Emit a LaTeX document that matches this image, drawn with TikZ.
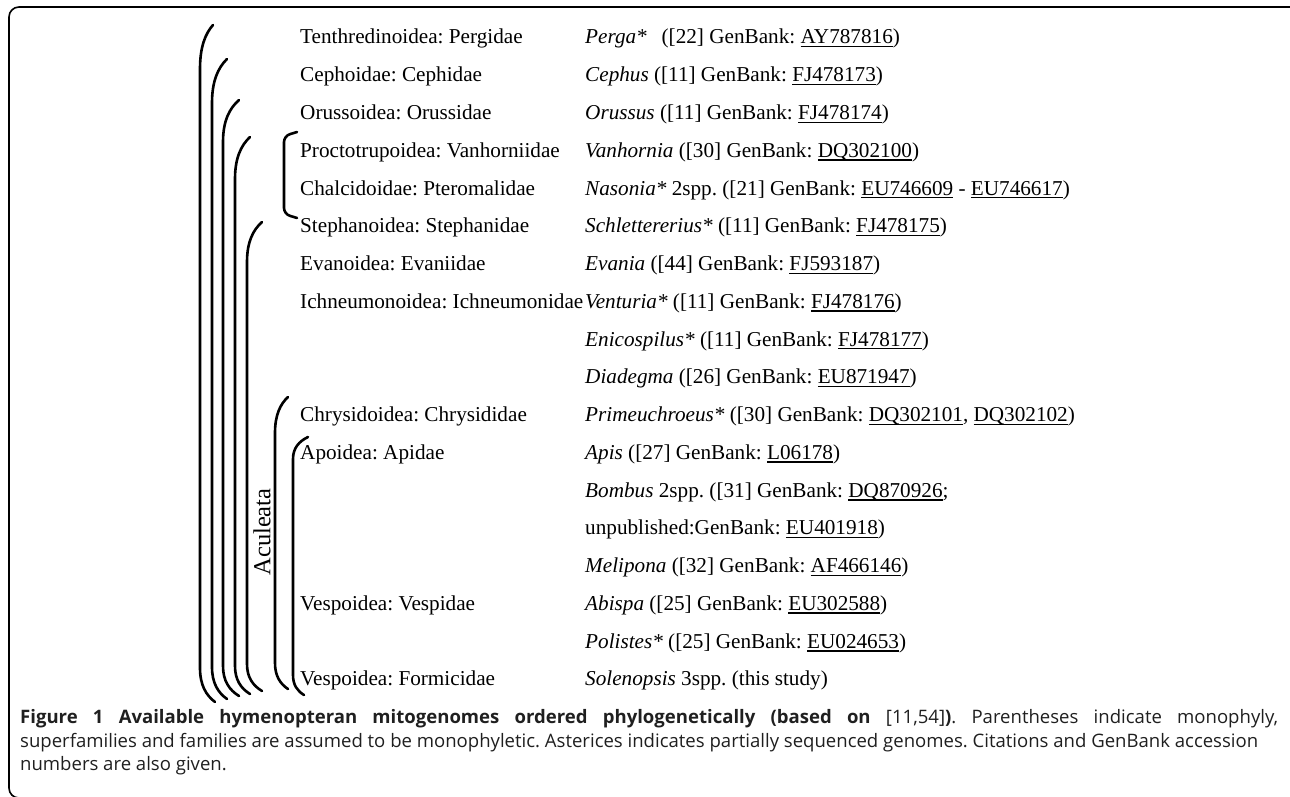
\documentclass[tikz,border=0pt]{standalone}
\usepackage{fontspec}
\setmainfont{Liberation Serif}
\newfontfamily\capfont{Open Sans}
\newcommand\acc[1]{{\sbox0{#1}\rlap{\rule[-3.4pt]{\wd0}{1.4pt}}\usebox0}}
\newlength\capw
\newlength\capsz
\newcommand\captwo{superfamilies and families are assumed to be monophyletic. Asterices indicates partially sequenced genomes. Citations and GenBank accession}
% #1 vertical x, #2/#3 top tip, #4/#5 bottom tip, #6 top curve length, #7 bottom curve length
\newcommand\hparen[7]{%
  \draw[paren] (#2,#3) .. controls ({#1+0.4*(#2-#1)},{#3+0.2*#6}) and (#1,{#3+0.5*#6}) .. (#1,{#3+#6})
    -- (#1,{#5-#7}) .. controls (#1,{#5-0.5*#7}) and ({#1+0.4*(#4-#1)},{#5-0.2*#7}) .. (#4,#5);}
\frenchspacing
\begin{document}
\settowidth\capw{\capfont\fontsize{10pt}{12pt}\selectfont\captwo}
\setlength\capsz{\dimexpr 10pt*81133568/\number\capw\relax}
\begin{tikzpicture}[x=1pt,y=-1pt,
  paren/.style={line width=2.6pt, line cap=round},
  lab/.style={anchor=base west, inner sep=0pt, font=\fontsize{21.2}{25}\selectfont},
  capline/.style={anchor=base west, inner sep=0pt, text=black!88, font=\capfont\fontsize{\capsz}{1.2\capsz}\selectfont}]
\useasboundingbox (0,0) rectangle (1290,797);
\draw[line width=1.6pt, rounded corners=10pt] (9,7) rectangle (1302,798);

% left column
\node[lab] (l1) at (300,44) {Tenthredinoidea: Pergidae};
\node[lab] (l2) at (300,81.76) {Cephoidae: Cephidae};
\node[lab] (l3) at (300,119.52) {Orussoidea: Orussidae};
\node[lab] (l4) at (300,157.28) {Proctotrupoidea: Vanhorniidae};
\node[lab] (l5) at (300,195.04) {Chalcidoidae: Pteromalidae};
\node[lab] (l6) at (300,232.8) {Stephanoidea: Stephanidae};
\node[lab] (l7) at (300,270.56) {Evanoidea: Evaniidae};
\node[lab] (l8) at (300,308.32) {Ichneumonoidea: Ichneumonidae};
\node[lab] (l11) at (300,421.6) {Chrysidoidea: Chrysididae};
\node[lab] (l12) at (300,459.36) {Apoidea: Apidae};
\node[lab] (l16) at (300,610.4) {Vespoidea: Vespidae};
\node[lab] (l18) at (300,685.92) {Vespoidea: Formicidae};

% right column
\node[lab] (r1) at (585,44) {\textit{Perga*}\hspace{0.7em}([22] GenBank: \acc{AY787816})};
\node[lab] (r2) at (585,81.76) {\textit{Cephus} ([11] GenBank: \acc{FJ478173})};
\node[lab] (r3) at (585,119.52) {\textit{Orussus} ([11] GenBank: \acc{FJ478174})};
\node[lab] (r4) at (585,157.28) {\textit{Vanhornia} ([30] GenBank: \acc{DQ302100})};
\node[lab] (r5) at (585,195.04) {\textit{Nasonia*} 2spp. ([21] GenBank: \acc{EU746609} - \acc{EU746617})};
\node[lab] (r6) at (585,232.8) {\textit{Schlettererius*} ([11] GenBank: \acc{FJ478175})};
\node[lab] (r7) at (585,270.56) {\textit{Evania} ([44] GenBank: \acc{FJ593187})};
\node[lab] (r8) at (585,308.32) {\textit{Venturia*} ([11] GenBank: \acc{FJ478176})};
\node[lab] (r9) at (585,346.08) {\textit{Enicospilus*} ([11] GenBank: \acc{FJ478177})};
\node[lab] (r10) at (585,383.84) {\textit{Diadegma} ([26] GenBank: \acc{EU871947})};
\node[lab] (r11) at (585,421.6) {\textit{Primeuchroeus*} ([30] GenBank: \acc{DQ302101}, \acc{DQ302102})};
\node[lab] (r12) at (585,459.36) {\textit{Apis} ([27] GenBank: \acc{L06178})};
\node[lab] (r13) at (585,497.12) {\textit{Bombus} 2spp. ([31] GenBank: \acc{DQ870926};};
\node[lab] (r14) at (585,534.88) {unpublished:GenBank: \acc{EU401918})};
\node[lab] (r15) at (585,572.64) {\textit{Melipona} ([32] GenBank: \acc{AF466146})};
\node[lab] (r16) at (585,610.4) {\textit{Abispa} ([25] GenBank: \acc{EU302588})};
\node[lab] (r17) at (585,648.16) {\textit{Polistes*} ([25] GenBank: \acc{EU024653})};
\node[lab] (r18) at (585,685.92) {\textit{Solenopsis} 3spp. (this study)};

% brackets
\hparen{200}{213}{25}{215}{702}{44}{34}
\hparen{212}{227}{59}{227}{699}{44}{32}
\hparen{223}{239}{100}{239}{696}{42}{30}
\hparen{235}{250}{137}{250}{694}{42}{28}
\hparen{247}{262}{222}{262}{691}{40}{27}
\hparen{275}{288}{397}{288}{689}{36}{26}
\hparen{293}{308}{437}{304}{695}{22}{20}
\draw[paren, rounded corners=6pt] (297,132) -- (284,136) -- (284,214) -- (297,218);

\node[rotate=90, inner sep=0pt, font=\fontsize{24.5}{28}\selectfont] (acul) at (262,532) {Aculeata};

% caption
\node[capline] (c1) at (20,723) {\makebox[1258pt][s]{\bfseries Figure 1 Available hymenopteran mitogenomes ordered phylogenetically (based on \mdseries[11,54]\bfseries)\mdseries. Parentheses indicate monophyly,}};
\node[capline] (c2) at (20,747) {\captwo};
\node[capline] (c3) at (20,770.5) {numbers are also given.};
\end{tikzpicture}
\end{document}
